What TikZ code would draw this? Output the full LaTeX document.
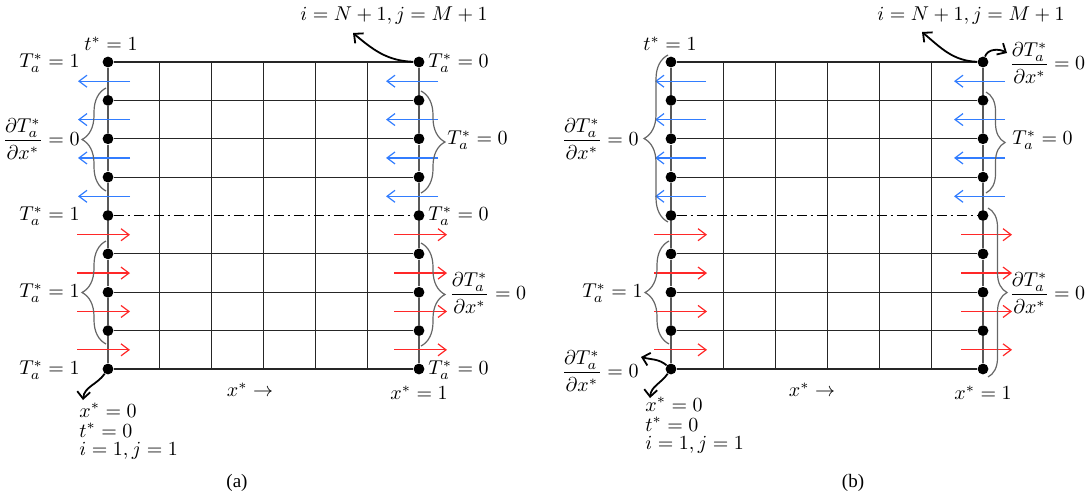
\documentclass[tikz,border=0pt]{standalone}
\usepackage{amsmath}
\usepackage{fontspec}
\newfontfamily\capfont{Liberation Serif}
\usetikzlibrary{arrows.meta,decorations.pathreplacing}
\definecolor{flowblue}{RGB}{50,125,255}
\definecolor{flowred}{RGB}{255,40,40}
\begin{document}
\begin{tikzpicture}[x=0.5pt,y=-0.5pt,
  dot/.style={circle,fill=black,inner sep=0pt,minimum size=5.4pt},
  gridline/.style={black!85,line width=0.6pt},
  bound/.style={black!65,line width=0.8pt},
  centreline/.style={black,line width=0.8pt,dash pattern=on 5pt off 2pt on 1pt off 2pt},
  bluearr/.style={flowblue,line width=0.6pt,-{Straight Barb[length=4pt,width=6pt]}},
  redarr/.style={flowred,line width=0.6pt,-{Straight Barb[length=4pt,width=6pt]}},
  bracebig/.style={decorate,decoration={brace,amplitude=12pt},black!60,line width=0.6pt},
  bracesmall/.style={decorate,decoration={brace,amplitude=9.5pt},black!60,line width=0.6pt},
  callout/.style={line width=0.9pt,-{Straight Barb[length=3.5pt,width=6.5pt]}},
  lbl/.style={inner sep=1pt},
  stack/.style={inner sep=0pt,anchor=base west},
  captext/.style={font=\capfont\fontsize{9.5}{11}\selectfont}]
\useasboundingbox (0,0) rectangle (1086,498);

% ================= panel (a) =================
\foreach \k in {1,...,5}
  \draw[gridline] ({108+\k*51.833},62) -- ({108+\k*51.833},369);
\foreach \r in {0,...,8}{
  \pgfmathsetmacro\yy{62+\r*38.375}
  \node[dot] (aL\r) at (108,\yy) {};
  \node[dot] (aR\r) at (419,\yy) {};
}
\foreach \r in {0,...,7}{
  \pgfmathtruncatemacro\s{\r+1}
  \draw[bound] (aL\r) -- (aL\s);
  \draw[bound] (aR\r) -- (aR\s);
}
\foreach \r in {0,1,2,3,5,6,7,8}
  \draw[gridline] (aL\r) -- (aR\r);
\draw[centreline] (aL4) -- (aR4);
\foreach \r in {0,...,3}{
  \pgfmathsetmacro\ym{62+(\r+0.5)*38.375}
  \draw[bluearr] (130,\ym) -- (78,\ym);
  \draw[bluearr] (438,\ym) -- (386,\ym);
}
\foreach \r in {4,...,7}{
  \pgfmathsetmacro\ym{62+(\r+0.5)*38.375}
  \draw[redarr] (77,\ym) -- (130,\ym);
  \draw[redarr] (394,\ym) -- (447,\ym);
}
\draw[bracebig] (106,191) -- (106,88);
\draw[bracebig] (106,344) -- (106,241);
\draw[bracebig] (421,91) -- (421,193);
\draw[bracebig] (421,243) -- (421,346);

\node[lbl] (at1) at (111,44) {$t^*=1$};
\node[lbl,anchor=east] (aTl0) at (82,63) {$T_a^*=1$};
\node[lbl,anchor=east] (aTl1) at (82,139) {$\dfrac{\partial T_a^*}{\partial x^*}=0$};
\node[lbl,anchor=east] (aTl2) at (82,216) {$T_a^*=1$};
\node[lbl,anchor=east] (aTl3) at (82,293) {$T_a^*=1$};
\node[lbl,anchor=east] (aTl4) at (82,370) {$T_a^*=1$};
\node[lbl,anchor=west] (aTr0) at (426,63) {$T_a^*=0$};
\node[lbl,anchor=west] (aTr1) at (445,140) {$T_a^*=0$};
\node[lbl,anchor=west] (aTr2) at (426,216) {$T_a^*=0$};
\node[lbl,anchor=west] (aTr3) at (447,293) {$\dfrac{\partial T_a^*}{\partial x^*}=0$};
\node[lbl,anchor=west] (aTr4) at (426,370) {$T_a^*=0$};
\node[lbl] (aNM) at (394,16) {$i=N+1,j=M+1$};
\node[lbl] (ax) at (250,390) {$x^*\rightarrow$};
\node[lbl] (ax1) at (419,393) {$x^*=1$};
\node[stack] (ao1) at (79,417) {$x^*=0$};
\node[stack] (ao2) at (79,437) {$t^*=0$};
\node[stack] (ao3) at (79,455) {$i=1,j=1$};
\coordinate (aNMtip) at (353,33);
\coordinate (aOtip) at (83,400);
\draw[callout] (aR0) to[out=178,in=-40] (aNMtip);
\draw[callout] (aL8) to[out=-125,in=85] (aOtip);
\node[captext] (capa) at (237,483) {(a)};

% ================= panel (b) =================
\foreach \k in {1,...,5}
  \draw[gridline] ({671.4+\k*52},62) -- ({671.4+\k*52},369);
\foreach \r in {0,...,8}{
  \pgfmathsetmacro\yy{62+\r*38.375}
  \node[dot] (bL\r) at (671,\yy) {};
  \node[dot] (bR\r) at (983,\yy) {};
}
\foreach \r in {0,...,7}{
  \pgfmathtruncatemacro\s{\r+1}
  \draw[bound] (bL\r) -- (bL\s);
  \draw[bound] (bR\r) -- (bR\s);
}
\foreach \r in {0,1,2,3,5,6,7,8}
  \draw[gridline] (bL\r) -- (bR\r);
\draw[centreline] (bL4) -- (bR4);
\foreach \r in {0,...,3}{
  \pgfmathsetmacro\ym{62+(\r+0.5)*38.375}
  \draw[bluearr] (706,\ym) -- (655,\ym);
  \draw[bluearr] (1005,\ym) -- (954,\ym);
}
\foreach \r in {4,...,7}{
  \pgfmathsetmacro\ym{62+(\r+0.5)*38.375}
  \draw[redarr] (654,\ym) -- (707,\ym);
  \draw[redarr] (961,\ym) -- (1012,\ym);
}
\draw[bracebig] (668,222) -- (668,55);
\draw[bracebig] (669,344) -- (669,241);
\draw[bracesmall] (986,92) -- (986,193);
\draw[bracesmall] (988,208) -- (988,377);

\node[lbl] (bt1) at (670,44) {$t^*=1$};
\node[lbl,anchor=east] (bTl1) at (641,139) {$\dfrac{\partial T_a^*}{\partial x^*}=0$};
\node[lbl,anchor=east] (bTl3) at (645,293) {$T_a^*=1$};
\node[lbl,anchor=east] (bTl4) at (641,371) {$\dfrac{\partial T_a^*}{\partial x^*}=0$};
\node[inner sep=0pt,anchor=west] (bTr0) at (1009,63) {$\dfrac{\partial T_a^*}{\partial x^*}\mkern-1mu=0$};
\node[lbl,anchor=west] (bTr1) at (1010,140) {$T_a^*=0$};
\node[inner sep=0pt,anchor=west] (bTr3) at (1009,293) {$\dfrac{\partial T_a^*}{\partial x^*}\mkern-1mu=0$};
\node[lbl] (bNM) at (971,16) {$i=N+1,j=M+1$};
\node[lbl] (bx) at (812,390) {$x^*\rightarrow$};
\node[lbl] (bx1) at (983,393) {$x^*=1$};
\node[stack] (bo1) at (645,411) {$x^*=0$};
\node[stack] (bo2) at (645,431) {$t^*=0$};
\node[stack] (bo3) at (645,449) {$i=1,j=1$};
\coordinate (bNMtip) at (922,32);
\coordinate (bRtip) at (1007,53);
\coordinate (bLtip) at (641,357);
\coordinate (bOtip) at (650,398);
\draw[callout] (bR0) to[out=178,in=-40] (bNMtip);
\draw[callout] (bR0) to[out=70,in=150] (bRtip);
\draw[callout] (bL8) to[out=140,in=-15] (bLtip);
\draw[callout] (bL8) to[out=-125,in=85] (bOtip);
\node[captext] (capb) at (853,483) {(b)};
\end{tikzpicture}
\end{document}
